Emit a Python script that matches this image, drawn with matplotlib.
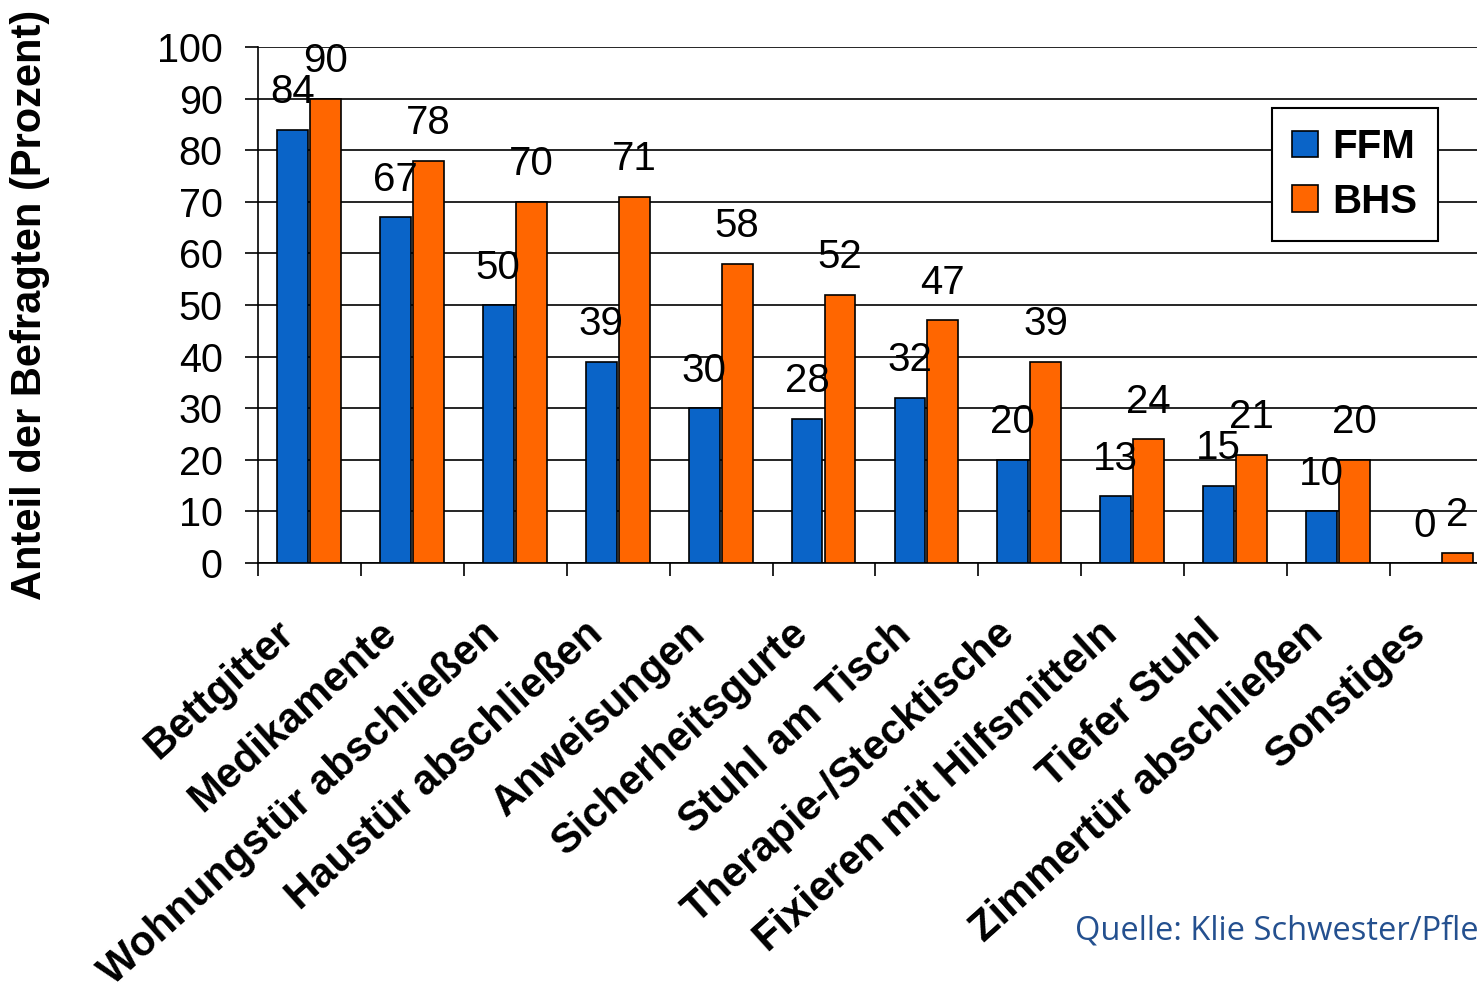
import numpy as np
import matplotlib
matplotlib.use("Agg")
import matplotlib.pyplot as plt

categories = ["Bettgitter", "Medikamente", "Wohnungstür abschließen", "Haustür abschließen",
              "Anweisungen", "Sicherheitsgurte", "Stuhl am Tisch", "Therapie-/Stecktische",
              "Fixieren mit Hilfsmitteln", "Tiefer Stuhl", "Zimmertür abschließen", "Sonstiges"]
ffm = [84, 67, 50, 39, 30, 28, 32, 20, 13, 15, 10, 0]
bhs = [90, 78, 70, 71, 58, 52, 47, 39, 24, 21, 20, 2]
series_names = ["FFM", "BHS"]
yticks = list(range(0, 101, 10))
source = "Quelle: Klie Schwester/Pfleger"

blue = "#0a64c8"
orange = "#ff6600"

plt.rcParams['font.family'] = ['Liberation Sans', 'DejaVu Sans']

fig = plt.figure(figsize=(14.77, 9.89), dpi=100)
ax = fig.add_axes([258/1477, 426/989, 1235/1477, 516/989])

x = np.arange(len(categories))
w = 0.3
b1 = ax.bar(x - 0.165, ffm, w, color=blue, edgecolor="black", linewidth=1.2, label=series_names[0], zorder=3)
b2 = ax.bar(x + 0.155, bhs, w, color=orange, edgecolor="black", linewidth=1.2, label=series_names[1], zorder=3)

for bars, vals in ((b1, ffm), (b2, bhs)):
    for r, v in zip(bars, vals):
        ax.annotate(str(v), (r.get_x() + r.get_width()/2, v), xytext=(0, 19),
                    textcoords="offset points", ha="center", va="baseline",
                    fontsize=29, zorder=4)

ax.set_xlim(-0.5, len(categories) - 0.5)
ax.set_ylim(0, 100)
ax.set_yticks(yticks)
ax.set_yticklabels([str(t) for t in yticks], fontsize=28.5)
ax.tick_params(axis="y", length=9.5, width=1.2, pad=16)

# category separators as ticks, names drawn under each group
ax.set_xticks(np.arange(len(categories) + 1) - 0.5)
ax.set_xticklabels([])
ax.tick_params(axis="x", which="major", length=9, width=1.2)
for xi, name in zip(x, categories):
    ax.annotate(name, (xi, 0), xytext=(-15, -47), textcoords="offset points",
                ha="right", va="center", rotation=42, rotation_mode="anchor",
                fontsize=30, fontweight="bold", annotation_clip=False)

ax.grid(axis="y", color="black", linewidth=1.2, zorder=0)
ax.set_axisbelow(True)
for s in ("top", "right"):
    ax.spines[s].set_visible(False)
for s in ("left", "bottom"):
    ax.spines[s].set_linewidth(1.2)

ax.set_ylabel("Anteil der Befragten (Prozent)", fontsize=30, fontweight="bold", labelpad=0)
ax.yaxis.set_label_coords(-208/1235, 0.5)

leg = ax.legend(loc="upper right", bbox_to_anchor=(1180/1235, 455/516),
                prop={"size": 29, "weight": "bold"},
                frameon=True, fancybox=False, edgecolor="black", framealpha=1,
                handlelength=0.65, handleheight=0.65, handletextpad=0.37,
                borderpad=0.5, labelspacing=0.42, borderaxespad=0)
leg.get_frame().set_linewidth(1.5)

fig.text(1075/1477, 1 - 940/989, source, fontsize=23.5, color="#24508f",
         family=["Open Sans", "DejaVu Sans"], va="baseline")

fig.savefig("out.png", dpi=100)
